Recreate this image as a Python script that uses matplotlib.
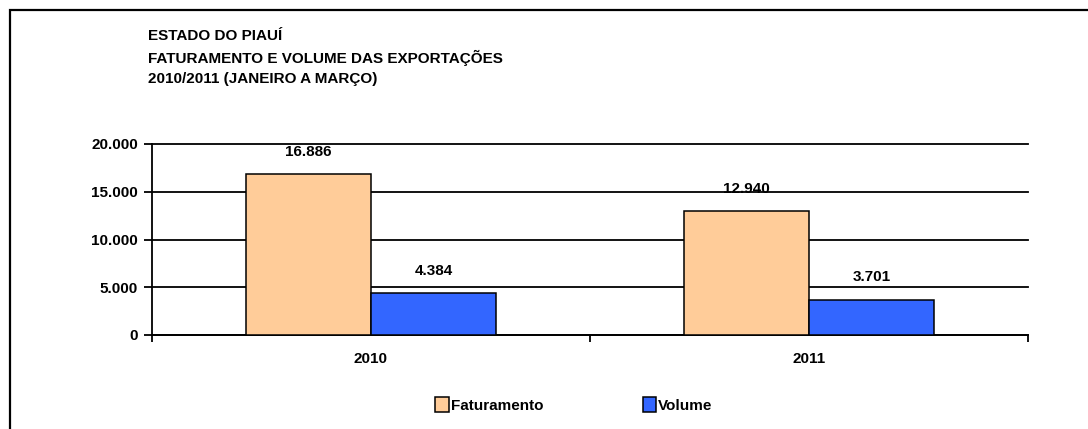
import numpy as np
import matplotlib.pyplot as plt
from matplotlib.patches import Rectangle

plt.rcParams['font.family'] = ['Liberation Sans', 'DejaVu Sans']
plt.rcParams['font.weight'] = 'bold'

anos = ['2010', '2011']
faturamento = [16886, 12940]
volume = [4384, 3701]
series = ['Faturamento', 'Volume']
cores = ['#FFCC99', '#3366FF']
titulo = ['ESTADO DO PIAUÍ',
          'FATURAMENTO E VOLUME DAS EXPORTAÇÕES',
          '2010/2011 (JANEIRO A MARÇO)']


def fmt(v):
    return f"{v:,.0f}".replace(",", ".")


fig = plt.figure(figsize=(10.88, 4.29), dpi=100)
W, H = 1088, 429
# moldura
fig.patches.append(Rectangle((9.5 / W, -0.1), 1.2, (H - 9.5) / H + 0.1, transform=fig.transFigure,
                             fill=False, edgecolor='black', linewidth=1.6))

ax = fig.add_axes([152 / W, 1 - 335 / H, (1028 - 152) / W, (335 - 144) / H])

x = np.arange(len(anos))
w = 0.285
for i, (vals, cor, nome) in enumerate(zip([faturamento, volume], cores, series)):
    pos = x + (i - 0.5) * w
    bars = ax.bar(pos, vals, width=w, color=cor, edgecolor='black', linewidth=1.1,
                  label=nome, zorder=3)
    for b, v in zip(bars, vals):
        ax.annotate(fmt(v), (b.get_x() + b.get_width() / 2, v), xytext=(0, 16),
                    textcoords='offset points', ha='center', va='center',
                    fontsize=11, fontweight='bold', zorder=4)

ax.set_xlim(-0.5, 1.5)
ax.set_ylim(0, 20000)
ax.set_yticks(np.arange(0, 20001, 5000))
ax.set_yticklabels([fmt(v) for v in np.arange(0, 20001, 5000)], fontsize=11, fontweight='bold')
ax.yaxis.grid(True, color='black', linewidth=1.3, zorder=0)
for gl in ax.get_ygridlines():
    gl.set_clip_on(False)
ax.set_axisbelow(True)
ax.tick_params(axis='y', length=6, width=1.3, pad=4)

ax.set_xticks([-0.5, 0.5, 1.5])
ax.set_xticklabels([])
ax.set_xticks(x, minor=True)
ax.set_xticklabels(anos, minor=True, fontsize=11, fontweight='bold')
ax.tick_params(axis='x', which='major', length=5, width=1.3)
ax.tick_params(axis='x', which='minor', length=0, pad=12)

for s in ['top', 'right']:
    ax.spines[s].set_visible(False)
for s in ['left', 'bottom']:
    ax.spines[s].set_linewidth(1.3)

for k, linha in enumerate(titulo):
    fig.text(148 / W, 1 - (35.5 + k * 22) / H, linha, ha='left', va='center',
             fontsize=11, fontweight='bold')

leg = fig.legend(loc='center', bbox_to_anchor=(574 / W, 1 - 405 / H), ncol=2, frameon=False,
                 fontsize=11, handlelength=0.9, handleheight=1.05, handletextpad=0.12,
                 columnspacing=6.5, borderpad=0)

fig.savefig('out.png', dpi=100)
